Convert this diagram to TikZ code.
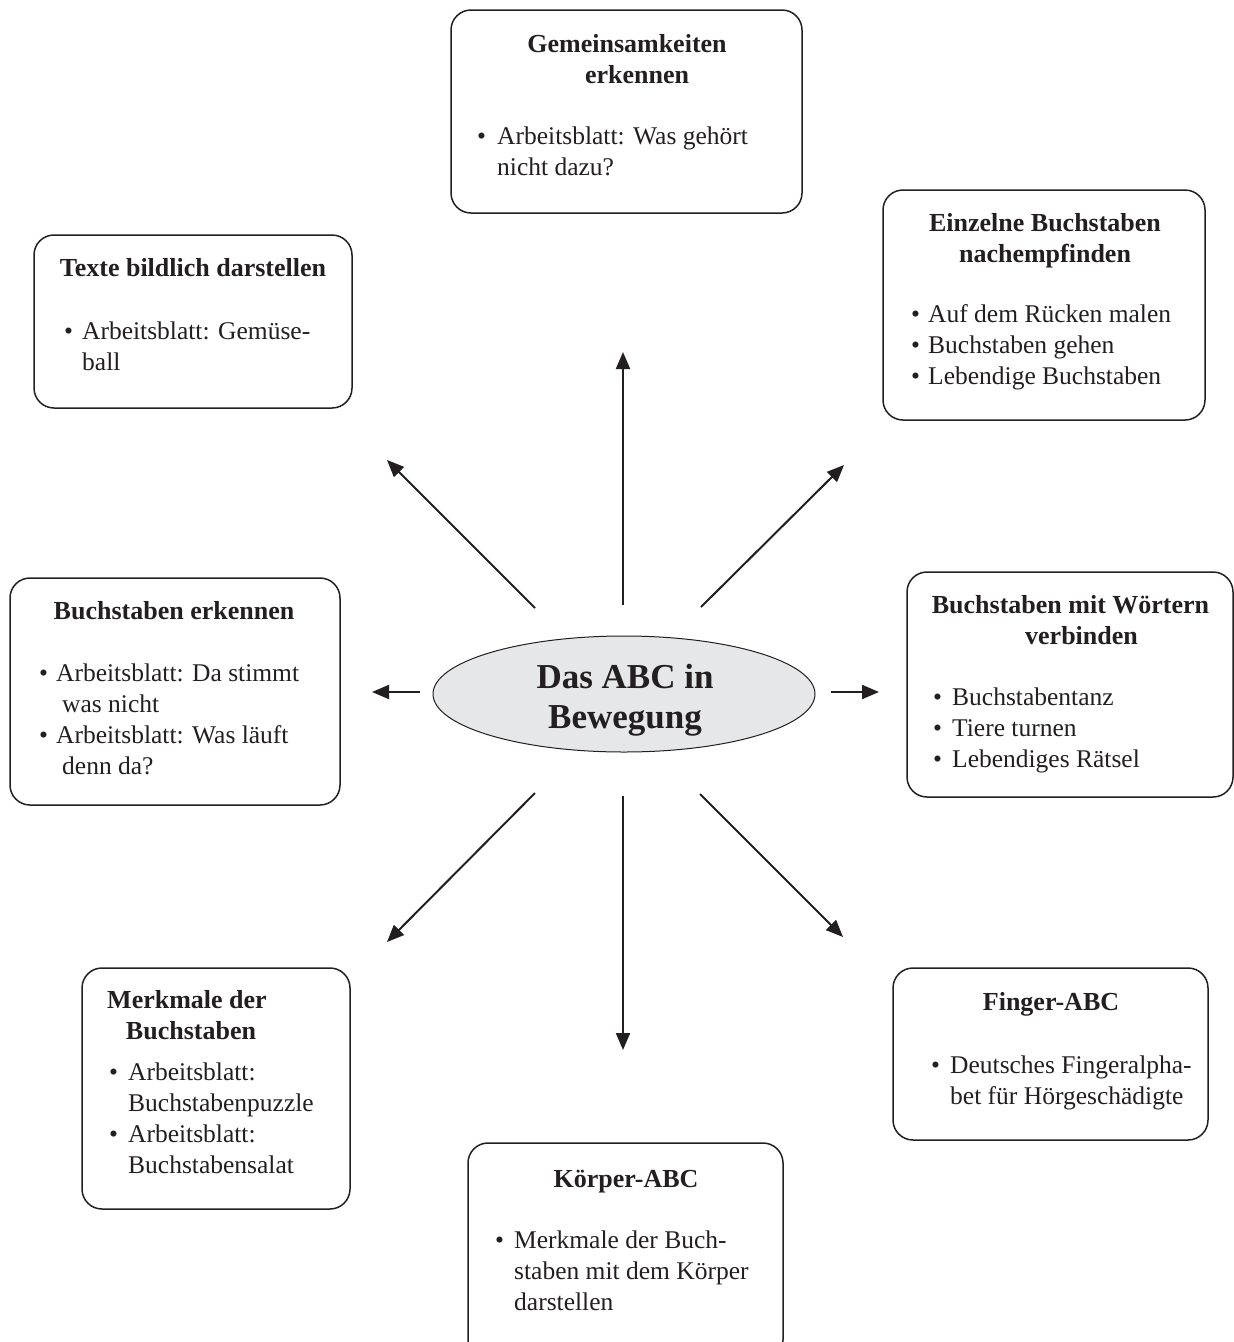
\documentclass[tikz,border=0pt]{standalone}
\usepackage{fontspec}
\setmainfont{Liberation Serif}
\usetikzlibrary{arrows.meta,shapes.geometric}
\definecolor{ink}{HTML}{231F20}
\definecolor{ellfill}{HTML}{E6E7E8}
\newcommand\tstrut{\rule{0pt}{24pt}}
\newcommand\bul[1]{\llap{\makebox[#1][l]{\textbullet}}}
\begin{document}
\begin{tikzpicture}[x=1pt,y=-1pt,
  box/.style={draw=ink, line width=1.5pt, rounded corners=20pt, inner sep=0pt},
  ttl/.style={font=\fontsize{26}{31}\selectfont\bfseries, align=center, anchor=north, inner sep=0pt, text=ink},
  lst/.style={font=\fontsize{25.5}{31}\selectfont, align=left, anchor=north west, inner sep=0pt, text=ink},
  conn/.style={draw=ink, line width=2pt, -{Triangle[length=17pt,width=14pt]}},
  ell/.style={ellipse, draw=ink, line width=1pt, fill=ellfill, inner sep=0pt},
  ctext/.style={font=\fontsize{35}{40}\selectfont\bfseries, align=center, anchor=north, inner sep=0pt, text=ink}
]
\useasboundingbox (0,0) rectangle (1234,1342);
\clip (0,0) rectangle (1234,1342);

% boxes
\node[box, minimum width=351pt, minimum height=203pt] (b1) at (626.5,111.5) {};
\node[box, minimum width=322pt, minimum height=230pt] (b2) at (1044,305) {};
\node[box, minimum width=318pt, minimum height=173pt] (b3) at (193,321.5) {};
\node[box, minimum width=330pt, minimum height=227pt] (b4) at (175,691.5) {};
\node[box, minimum width=326pt, minimum height=225pt] (b5) at (1070,684.5) {};
\node[box, minimum width=315pt, minimum height=172pt] (b6) at (1050.5,1054) {};
\node[box, minimum width=315pt, minimum height=217pt] (b7) at (625.5,1251.5) {};
\node[box, minimum width=268pt, minimum height=241pt] (b8) at (216,1088.5) {};

% titles
\node[ttl] (t1) at (632,28) {\tstrut Gemeinsamkeiten\hspace*{10pt}\\\hspace*{10pt}erkennen};
\node[ttl] (t2) at (1045,207) {\tstrut Einzelne Buchstaben\\nachempfinden};
\node[ttl] (t3) at (193,252) {\tstrut Texte bildlich darstellen};
\node[ttl] (t4) at (174,595) {\tstrut Buchstaben erkennen};
\node[ttl] (t5) at (1076,589) {\tstrut Buchstaben mit Wörtern\hspace*{11pt}\\\hspace*{11pt}verbinden};
\node[ttl] (t6) at (1051,986) {\tstrut Finger-ABC};
\node[ttl] (t7) at (626,1163) {\tstrut Körper-ABC};
\node[ttl] (t8) at (189,984) {\tstrut Merkmale der\hspace*{4pt}\\\hspace*{4pt}Buchstaben};

% lists
\node[lst] (l1) at (497,120) {\tstrut\bul{20pt}Arbeitsblatt: Was gehört\\nicht dazu?};
\node[lst] (l2) at (928,298) {\tstrut\bul{17pt}Auf dem Rücken malen\\\bul{17pt}Buchstaben gehen\\\bul{17pt}Lebendige Buchstaben};
\node[lst] (l3) at (82,315) {\tstrut\bul{18pt}Arbeitsblatt: Gemüse-\\ball};
\node[lst] (l4) at (56,657) {\tstrut\bul{17pt}Arbeitsblatt: Da stimmt\\\hspace*{6pt}was nicht\\\bul{17pt}Arbeitsblatt: Was läuft\\\hspace*{6pt}denn da?};
\node[lst] (l5) at (952,681) {\tstrut\bul{19pt}Buchstabentanz\\\bul{19pt}Tiere turnen\\\bul{19pt}Lebendiges Rätsel};
\node[lst] (l6) at (950,1049) {\tstrut\bul{19pt}Deutsches Fingeralpha-\\bet für Hörgeschädigte};
\node[lst] (l7) at (514,1224) {\tstrut\bul{19pt}Merkmale der Buch-\\staben mit dem Körper\\darstellen};
\node[lst] (l8) at (128,1056) {\tstrut\bul{19pt}Arbeitsblatt:\\Buchstabenpuzzle\\\bul{19pt}Arbeitsblatt:\\Buchstabensalat};

% centre
\node[ell, minimum width=382pt, minimum height=116pt] (c) at (624,694) {};
\node[ctext] (ct) at (625,657) {\rule{0pt}{31pt}Das ABC in\\Bewegung};

% arrows
\coordinate (aUs) at (623,605);  \coordinate (aUe) at (623,352);
\coordinate (aURs) at (701,607); \coordinate (aURe) at (844,465);
\coordinate (aRs) at (831,692);  \coordinate (aRe) at (879,692);
\coordinate (aDRs) at (700,794); \coordinate (aDRe) at (843,937);
\coordinate (aDs) at (623,796);  \coordinate (aDe) at (623,1050);
\coordinate (aDLs) at (535,793); \coordinate (aDLe) at (387,942);
\coordinate (aLs) at (420,692);  \coordinate (aLe) at (372,692);
\coordinate (aULs) at (535,608); \coordinate (aULe) at (387,460);

\draw[conn] (aUs) -- (aUe);
\draw[conn] (aURs) -- (aURe);
\draw[conn] (aRs) -- (aRe);
\draw[conn] (aDRs) -- (aDRe);
\draw[conn] (aDs) -- (aDe);
\draw[conn] (aDLs) -- (aDLe);
\draw[conn] (aLs) -- (aLe);
\draw[conn] (aULs) -- (aULe);
\end{tikzpicture}
\end{document}
